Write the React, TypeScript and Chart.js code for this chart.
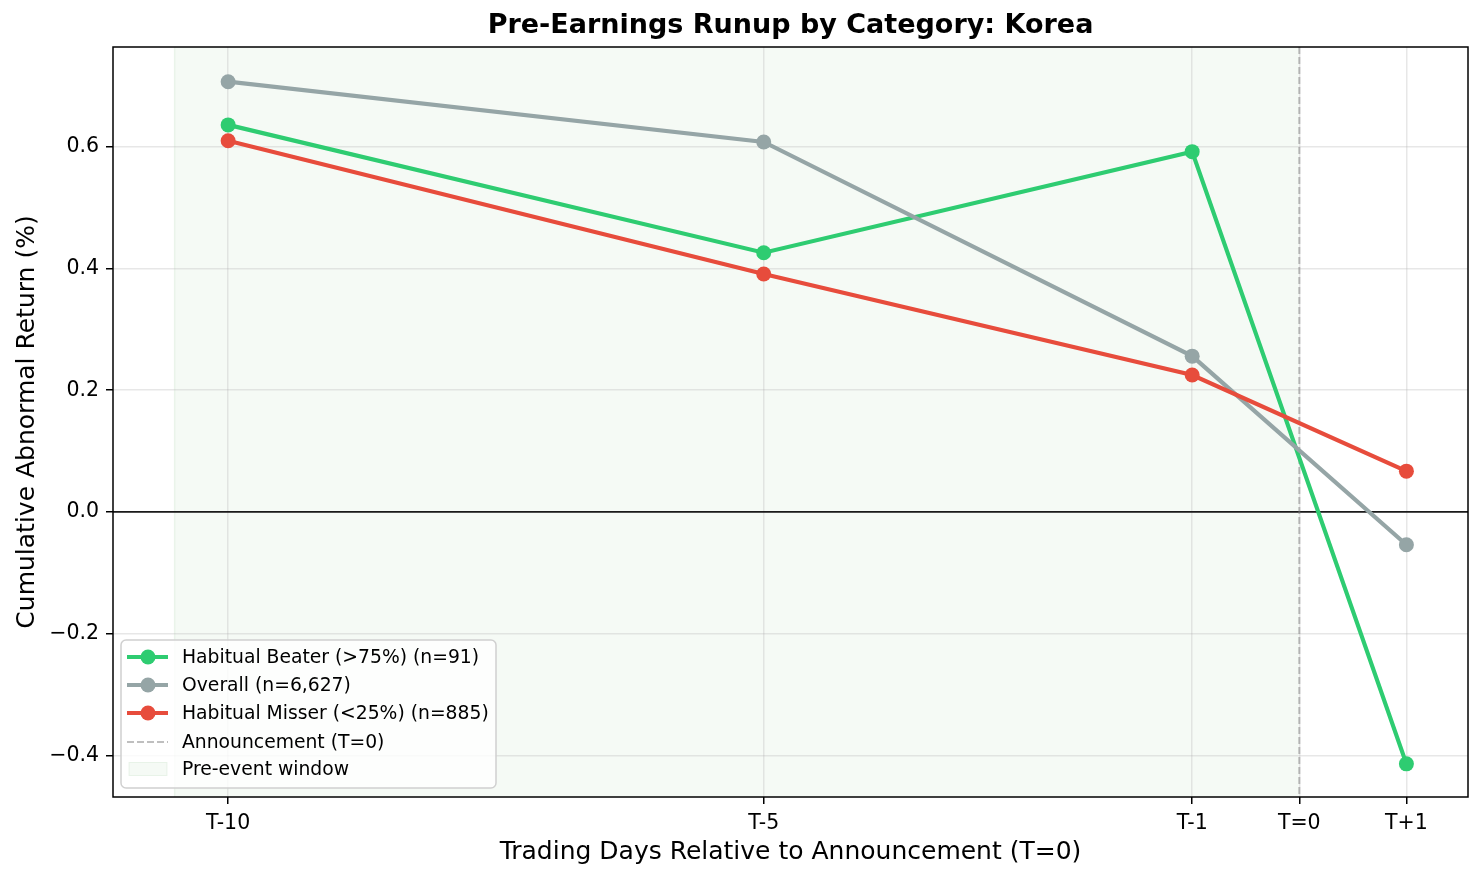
import { useEffect, useRef } from "react"
import { Chart, registerables } from "chart.js"

Chart.register(...registerables)

// x positions (trading days relative to T=0)
const dayOffsets = [-10, -5, -1, 1]
const tickDays = [-10, -5, -1, 0, 1]
const tickLabels = ["T-10", "T-5", "T-1", "T=0", "T+1"]
const yTicks = [-0.4, -0.2, 0, 0.2, 0.4, 0.6]

// cumulative abnormal return (%)
const beaterValues = [0.636, 0.426, 0.592, -0.414]
const overallValues = [0.707, 0.608, 0.256, -0.054]
const misserValues = [0.61, 0.391, 0.225, 0.067]

const seriesNames = [
  "Habitual Beater (>75%) (n=91)",
  "Overall (n=6,627)",
  "Habitual Misser (<25%) (n=885)",
]
const seriesColors = ["#2ecc71", "#95a5a6", "#e74c3c"]
const announceLabel = "Announcement (T=0)"
const windowLabel = "Pre-event window"

const windowStart = -10.5
const windowEnd = 0
const announceDay = 0

const FONT = "'DejaVu Sans', sans-serif"
const SHADE = "rgba(0,128,0,0.04)"
const SHADE_EDGE = "rgba(0,128,0,0.07)"
const DASH_COLOR = "rgba(128,128,128,0.5)"
const LINE_W = 4.2

const decorPlugin = {
  id: "decor",
  beforeDraw(chart: any) {
    const { ctx, chartArea: a, scales } = chart
    const x0 = scales.x.getPixelForValue(windowStart)
    const x1 = scales.x.getPixelForValue(windowEnd)
    ctx.save()
    ctx.fillStyle = SHADE
    ctx.fillRect(x0, a.top, x1 - x0, a.bottom - a.top)
    ctx.strokeStyle = SHADE_EDGE
    ctx.lineWidth = 1.5
    ctx.beginPath()
    ctx.moveTo(x0, a.top)
    ctx.lineTo(x0, a.bottom)
    ctx.stroke()
    ctx.restore()
  },
  beforeDatasetsDraw(chart: any) {
    const { ctx, chartArea: a, scales } = chart
    ctx.save()
    // zero line
    const y0 = scales.y.getPixelForValue(0)
    ctx.strokeStyle = "#1a1a1a"
    ctx.lineWidth = 1.6
    ctx.beginPath()
    ctx.moveTo(a.left, y0)
    ctx.lineTo(a.right, y0)
    ctx.stroke()
    // announcement line
    const xa = scales.x.getPixelForValue(announceDay)
    ctx.strokeStyle = DASH_COLOR
    ctx.lineWidth = 2
    ctx.setLineDash([7, 3])
    ctx.beginPath()
    ctx.moveTo(xa, a.top)
    ctx.lineTo(xa, a.bottom)
    ctx.stroke()
    ctx.restore()
  },
  afterDraw(chart: any) {
    const { ctx, chartArea: a } = chart
    ctx.save()
    // frame
    ctx.strokeStyle = "#000"
    ctx.lineWidth = 1.5
    ctx.strokeRect(a.left, a.top, a.right - a.left, a.bottom - a.top)

    // titles
    ctx.fillStyle = "#000"
    ctx.textAlign = "center"
    ctx.textBaseline = "middle"
    ctx.font = `bold 27px ${FONT}`
    ctx.fillText("Pre-Earnings Runup by Category: Korea", (a.left + a.right) / 2, 26)
    ctx.font = `25px ${FONT}`
    ctx.fillText("Trading Days Relative to Announcement (T=0)", (a.left + a.right) / 2, 852)
    ctx.save()
    ctx.translate(27, (a.top + a.bottom) / 2)
    ctx.rotate(-Math.PI / 2)
    ctx.fillText("Cumulative Abnormal Return (%)", 0, 0)
    ctx.restore()

    // legend
    const bx = a.left + 8
    const by = 640
    const bw = 375
    const bh = 148
    ctx.beginPath()
    ctx.roundRect(bx, by, bw, bh, 5)
    ctx.fillStyle = "rgba(255,255,255,0.8)"
    ctx.fill()
    ctx.strokeStyle = "#d0d0d0"
    ctx.lineWidth = 1.5
    ctx.stroke()

    const rows = [657, 685, 713, 742, 769]
    ctx.font = `18.75px ${FONT}`
    ctx.textAlign = "left"
    ctx.textBaseline = "middle"
    seriesNames.forEach((name, i) => {
      const yy = rows[i]
      ctx.strokeStyle = seriesColors[i]
      ctx.lineWidth = LINE_W
      ctx.beginPath()
      ctx.moveTo(127, yy)
      ctx.lineTo(168, yy)
      ctx.stroke()
      ctx.fillStyle = seriesColors[i]
      ctx.beginPath()
      ctx.arc(148, yy, 7.5, 0, Math.PI * 2)
      ctx.fill()
      ctx.fillStyle = "#000"
      ctx.fillText(name, 182, yy + 1)
    })
    ctx.strokeStyle = DASH_COLOR
    ctx.lineWidth = 2.2
    ctx.setLineDash([7, 3])
    ctx.beginPath()
    ctx.moveTo(127, rows[3])
    ctx.lineTo(168, rows[3])
    ctx.stroke()
    ctx.setLineDash([])
    ctx.fillStyle = "#000"
    ctx.fillText(announceLabel, 182, rows[3] + 1)

    ctx.fillStyle = SHADE
    ctx.fillRect(129, rows[4] - 6.5, 38, 13)
    ctx.strokeStyle = SHADE_EDGE
    ctx.lineWidth = 1
    ctx.strokeRect(129, rows[4] - 6.5, 38, 13)
    ctx.fillStyle = "#000"
    ctx.fillText(windowLabel, 182, rows[4] + 1)
    ctx.restore()
  },
}

function RunupChart() {
  const chartRef = useRef<HTMLCanvasElement>(null)
  const chartInstance = useRef<Chart | null>(null)

  useEffect(() => {
    if (!chartRef.current) return
    if (chartInstance.current) chartInstance.current.destroy()
    const ctx = chartRef.current.getContext("2d")
    if (!ctx) return

    const series = [beaterValues, overallValues, misserValues]
    const orders = [2, 1, 0]

    chartInstance.current = new Chart(ctx, {
      type: "line",
      data: {
        datasets: series.map((vals, i) => ({
          label: seriesNames[i],
          data: dayOffsets.map((d, j) => ({ x: d, y: vals[j] })),
          borderColor: seriesColors[i],
          backgroundColor: seriesColors[i],
          borderWidth: LINE_W,
          pointRadius: 7.5,
          pointBorderWidth: 0,
          pointHoverRadius: 7.5,
          tension: 0,
          order: orders[i],
        })),
      },
      options: {
        animation: false,
        responsive: false,
        devicePixelRatio: 1,
        events: [],
        layout: { padding: { top: 47, right: 14, left: 0, bottom: 0 } },
        plugins: { legend: { display: false }, tooltip: { enabled: false }, title: { display: false } },
        scales: {
          x: {
            type: "linear",
            min: -11.075,
            max: 1.575,
            afterBuildTicks: (s: any) => {
              s.ticks = tickDays.map((v) => ({ value: v }))
            },
            afterFit: (s: any) => {
              s.height = 83
            },
            ticks: {
              autoSkip: false,
              maxRotation: 0,
              padding: 7,
              color: "#000",
              font: { family: FONT, size: 20.5 },
              callback: (v: any) => tickLabels[tickDays.indexOf(Number(v))] ?? "",
            },
            grid: {
              color: "rgba(176,176,176,0.3)",
              lineWidth: 1.5,
              tickColor: "#000",
              tickLength: 7,
            },
            border: { display: false },
          },
          y: {
            type: "linear",
            min: -0.4685,
            max: 0.764,
            afterBuildTicks: (s: any) => {
              s.ticks = yTicks.map((v) => ({ value: v }))
            },
            afterFit: (s: any) => {
              s.width = 113
            },
            ticks: {
              autoSkip: false,
              padding: 7,
              color: "#000",
              font: { family: FONT, size: 20.5 },
              callback: (v: any) => {
                const n = Number(v)
                return (n < -1e-9 ? "\u2212" : "") + Math.abs(n).toFixed(1)
              },
            },
            grid: {
              color: "rgba(176,176,176,0.3)",
              lineWidth: 1.5,
              tickColor: "#000",
              tickLength: 7,
            },
            border: { display: false },
          },
        },
      },
      plugins: [decorPlugin],
    } as any)

    return () => {
      if (chartInstance.current) {
        chartInstance.current.destroy()
        chartInstance.current = null
      }
    }
  }, [])

  return <canvas ref={chartRef} width={1482} height={880} style={{ width: 1482, height: 880, display: "block" }} />
}

export default function App() {
  return (
    <div style={{ position: "fixed", top: 0, left: 0, width: 1482, height: 880, background: "#fff" }}>
      <RunupChart />
    </div>
  )
}
